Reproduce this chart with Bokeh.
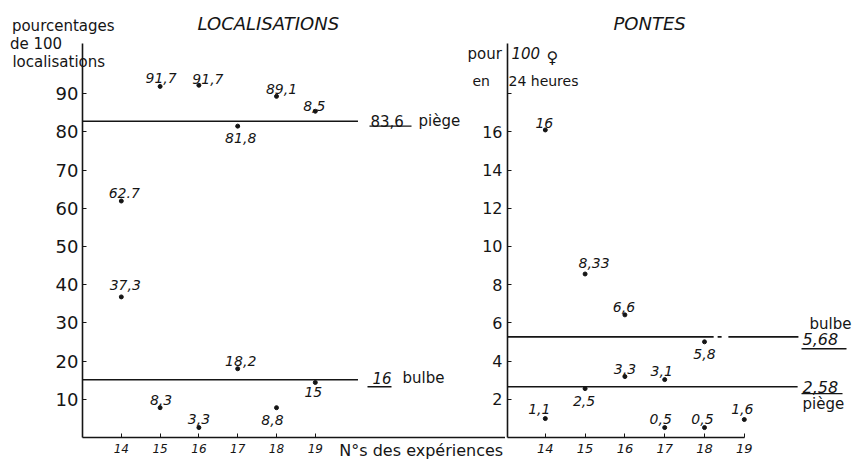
from bokeh.plotting import figure
from bokeh.models import Range1d, FixedTicker, Label, ColumnDataSource
from bokeh.layouts import row
from bokeh.embed import file_html
from bokeh.resources import INLINE
from bokeh.core.properties import value

# ---------------- data ----------------
experiences = [14, 15, 16, 17, 18, 19]

# LOCALISATIONS (pourcentages de 100 localisations)
loc_x = [14, 14, 15, 15, 16, 16, 17, 17, 18, 18, 19, 19]
loc_y = [61.9, 36.8, 91.9, 7.8, 92.2, 2.6, 81.5, 18.0, 89.3, 7.8, 85.4, 14.4]
loc_labels = ["62.7", "37,3", "91,7", "8,3", "91,7", "3,3",
              "81,8", "18,2", "89,1", "8,8", "8,5", "15"]
loc_moy_piege = 82.8
loc_moy_bulbe = 15.1
loc_moy_labels = ["83,6", "16"]
loc_ticks_y = [10, 20, 30, 40, 50, 60, 70, 80, 90]
loc_line_end = 20.1

# PONTES (pour 100 femelles en 24 heures)
pon_x = [14, 14, 15, 15, 16, 16, 17, 17, 18, 18, 19]
pon_y = [16.1, 0.99, 8.56, 2.56, 6.42, 3.19, 3.03, 0.52, 5.01, 0.52, 0.94]
pon_labels = ["16", "1,1", "8,33", "2,5", "6,6", "3,3",
              "3,1", "0,5", "5,8", "0,5", "1,6"]
pon_moy_bulbe = 5.27
pon_moy_piege = 2.66
pon_moy_labels = ["5,68", "2,58"]
pon_ticks_y = [2, 4, 6, 8, 10, 12, 14, 16, 18]
pon_tick_labels = ["2", "4", "6", "8", "10", "12", "14", "16", ""]
pon_bulbe_pieces = [(13, 18.23), (18.33, 18.43), (18.6, 20.36)]
pon_piege_end = 20.34

# ---------------- layout / style ----------------
INK = "#151515"
H = 462
TOP, BOT = 42, 25
FONT = "DejaVu Sans"
LPX = 3.83     # px per % (left)
RPX = 19.15    # px per unit (right)
FS = "\u2007"  # figure space
NB = "\u00a0"  # no-break space

loc_off = [(3, -8), (4, -12), (1, -8), (1, -8), (9, -6), (0, -9),
           (3, 12), (3, -8), (5, -7), (-4, 12), (-1, -5), (-2, 10)]
pon_off = [(-1, -7), (-6, -10), (9, -11), (-1, 12), (-1, -8), (0, -8),
           (-3, -9), (-4, -9), (0, 12), (-2, -9), (-2, -11)]

def lx(px):
    return 13 + (px - 82) / 38.8
def ly(py):
    return (437 - py) / LPX
def rx(px):
    return 13 + (px - 505) / 39.8
def ry(py):
    return (437 - py) / RPX

frame_h = H - TOP - BOT
pon_range = Range1d(0, frame_h / RPX)

# ---------- left figure : LOCALISATIONS ----------
pl = figure(width=505, height=H, x_range=Range1d(13, 13 + 423 / 38.8),
            y_range=Range1d(0, frame_h / LPX),
            output_backend="svg", toolbar_location=None,
            min_border_left=82, min_border_right=0,
            min_border_top=TOP, min_border_bottom=BOT,
            outline_line_color=None, background_fill_color="white",
            title="LOCALISATIONS")
pl.grid.visible = False
pl.title.align = "left"
pl.title.offset = 115
pl.title.standoff = 20
pl.title.text_font = FONT
pl.title.text_font_style = "italic"
pl.title.text_font_size = "18px"
pl.title.text_color = INK
pl.extra_y_ranges = {"pontes": pon_range}

xa = pl.xaxis[0]
xa.ticker = FixedTicker(ticks=experiences)
xa.major_tick_in = 4
xa.major_tick_out = 0
xa.minor_tick_in = 0
xa.minor_tick_out = 0
xa.axis_line_color = INK
xa.axis_line_width = 1.6
xa.major_tick_line_color = INK
xa.major_label_text_font = FONT
xa.major_label_text_font_style = "italic"
xa.major_label_text_font_size = "12px"
xa.major_label_text_color = INK
xa.major_label_standoff = 6
xa.axis_label = FS * 25 + "N°s des expériences"
xa.axis_label_align = "center"
xa.axis_label_standoff = -15
xa.axis_label_text_font = FONT
xa.axis_label_text_font_style = "normal"
xa.axis_label_text_font_size = "16px"
xa.axis_label_text_color = INK

ya = pl.yaxis[0]
ya.ticker = FixedTicker(ticks=loc_ticks_y)
ya.major_tick_in = 4
ya.major_tick_out = 0
ya.minor_tick_in = 0
ya.minor_tick_out = 0
ya.axis_line_color = INK
ya.axis_line_width = 1.6
ya.major_tick_line_color = INK
ya.major_label_text_font = FONT
ya.major_label_text_font_size = "18px"
ya.major_label_text_color = INK
ya.major_label_standoff = 4
ya.axis_label = "pourcentages\nde 100" + NB * 11 + "\nlocalisations" + NB * 2
ya.axis_label_orientation = "horizontal"
ya.axis_label_align = "end"
ya.axis_label_standoff = -62
ya.axis_label_text_font = FONT
ya.axis_label_text_font_style = "normal"
ya.axis_label_text_font_size = "15px"
ya.axis_label_text_line_height = 1.0
ya.axis_label_text_color = INK

pl.segment(x0=[13, 13], x1=[loc_line_end, loc_line_end],
           y0=[loc_moy_piege, loc_moy_bulbe], y1=[loc_moy_piege, loc_moy_bulbe],
           line_color=INK, line_width=1.6)

src_l = ColumnDataSource(dict(x=loc_x, y=loc_y, t=loc_labels,
                              dx=[o[0] for o in loc_off], dy=[o[1] for o in loc_off]))
pl.scatter("x", "y", source=src_l, size=4, color=INK)
pl.text("x", "y", text="t", source=src_l, x_offset="dx", y_offset="dy",
        text_align="center", text_baseline="middle", text_font=value(FONT),
        text_font_style="italic", text_font_size="14px", text_color=INK)

def lab(p, x, y, t, size="15px", style="normal", align="left", base="middle", rng="default"):
    p.add_layout(Label(x=x, y=y, text=t, text_font=FONT, text_font_size=size,
                       text_font_style=style, text_align=align, text_baseline=base,
                       text_color=INK, y_range_name=rng))

lab(pl, lx(370), loc_moy_piege, loc_moy_labels[0], size="15px")
lab(pl, lx(418), loc_moy_piege, "piège", size="15px")
lab(pl, lx(372), loc_moy_bulbe + 2 / LPX, loc_moy_labels[1], size="15px", style="italic")
lab(pl, lx(402), loc_moy_bulbe + 2 / LPX, "bulbe", size="15px")
pl.segment(x0=[lx(369), lx(367)], x1=[lx(411), lx(391)],
           y0=[loc_moy_piege - 5 / LPX, loc_moy_bulbe - 7 / LPX],
           y1=[loc_moy_piege - 5 / LPX, loc_moy_bulbe - 7 / LPX],
           line_color=INK, line_width=1.4)

# labels of the PONTES scale, left of its axis, through the "pontes" range
for t, s in zip(pon_ticks_y, pon_tick_labels):
    if s:
        lab(pl, lx(502), t, s, size="16px", align="right", rng="pontes")

lab(pl, lx(467), ly(53), "pour", size="15px")
lab(pl, lx(472), ly(80), "en", size="14px")

# ---------- right figure : PONTES ----------
x0r = 13 + 2 / 39.8
pr = figure(width=361, height=H, x_range=Range1d(x0r, x0r + 359 / 39.8),
            y_range=pon_range,
            output_backend="svg", toolbar_location=None,
            min_border_left=2, min_border_right=0,
            min_border_top=TOP, min_border_bottom=BOT,
            outline_line_color=None, background_fill_color="white",
            title="PONTES")
pr.grid.visible = False
pr.title.align = "left"
pr.title.offset = 106
pr.title.standoff = 20
pr.title.text_font = FONT
pr.title.text_font_style = "italic"
pr.title.text_font_size = "18px"
pr.title.text_color = INK

yb = pr.yaxis[0]
yb.ticker = FixedTicker(ticks=pon_ticks_y)
yb.major_tick_in = 4
yb.major_tick_out = 0
yb.minor_tick_in = 0
yb.minor_tick_out = 0
yb.axis_line_color = INK
yb.axis_line_width = 1.6
yb.major_tick_line_color = INK
yb.major_label_text_color = None

xb = pr.xaxis[0]
xb.ticker = FixedTicker(ticks=experiences)
xb.bounds = (13, 19)
xb.major_tick_in = 4
xb.major_tick_out = 0
xb.minor_tick_in = 0
xb.minor_tick_out = 0
xb.axis_line_color = INK
xb.axis_line_width = 1.6
xb.major_tick_line_color = INK
xb.major_label_text_font = FONT
xb.major_label_text_font_style = "italic"
xb.major_label_text_font_size = "13px"
xb.major_label_text_color = INK
xb.major_label_standoff = 6

pr.segment(x0=[a for a, b in pon_bulbe_pieces] + [13],
           x1=[b for a, b in pon_bulbe_pieces] + [pon_piege_end],
           y0=[pon_moy_bulbe] * 3 + [pon_moy_piege],
           y1=[pon_moy_bulbe] * 3 + [pon_moy_piege],
           line_color=INK, line_width=1.6)

src_r = ColumnDataSource(dict(x=pon_x, y=pon_y, t=pon_labels,
                              dx=[o[0] for o in pon_off], dy=[o[1] for o in pon_off]))
pr.scatter("x", "y", source=src_r, size=4, color=INK)
pr.text("x", "y", text="t", source=src_r, x_offset="dx", y_offset="dy",
        text_align="center", text_baseline="middle", text_font=value(FONT),
        text_font_style="italic", text_font_size="14px", text_color=INK)

lab(pr, rx(511), ry(52), "100", size="15px", style="italic")
lab(pr, rx(546), ry(56), "♀", size="16px")
lab(pr, rx(508), ry(80), "24 heures", size="14px")

lab(pr, rx(809), pon_moy_bulbe + 13 / RPX, "bulbe", size="15px")
lab(pr, rx(802), pon_moy_bulbe - 2 / RPX, pon_moy_labels[0], size="16px", style="italic")
lab(pr, rx(802), pon_moy_piege, pon_moy_labels[1], size="16px", style="italic")
lab(pr, rx(802), pon_moy_piege - 17 / RPX, "piège", size="15px")
pr.segment(x0=[rx(801), rx(801)], x1=[rx(846), rx(842)],
           y0=[pon_moy_bulbe - 12 / RPX, pon_moy_piege - 7 / RPX],
           y1=[pon_moy_bulbe - 12 / RPX, pon_moy_piege - 7 / RPX],
           line_color=INK, line_width=1.4)

layout = row(pl, pr)
open("out.html", "w").write(file_html(layout, INLINE))
